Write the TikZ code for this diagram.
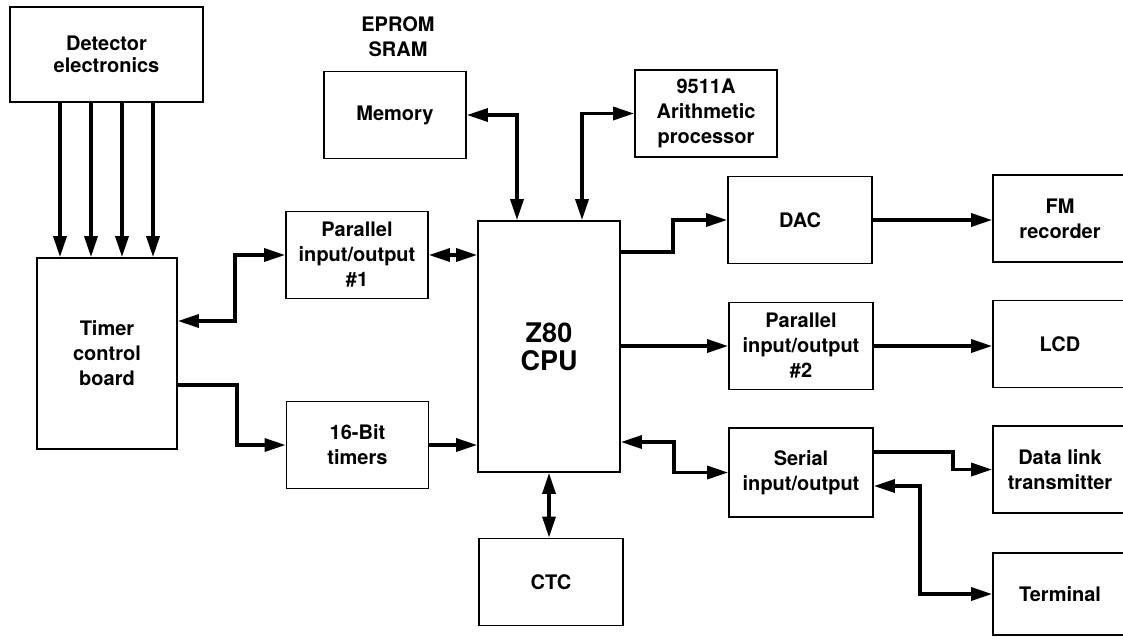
\documentclass[tikz,border=0pt]{standalone}
\usepackage{fontspec}
\setmainfont{TeX Gyre Heros}
\usetikzlibrary{arrows.meta}

\begin{document}
\begin{tikzpicture}[
        x=1pt, y=-1pt,
        box/.style={rectangle, draw=black, line width=1.8pt, align=center, inner sep=0pt, minimum width=142pt, minimum height=87pt, font=\fontsize{20}{25}\selectfont\bfseries},
        arrow/.style={-{Triangle[length=21pt, width=13pt]}, line width=3.3pt},
        biarrow/.style={{Triangle[length=21pt, width=13pt]}-{Triangle[length=21pt, width=13pt]}, line width=3.3pt}
    ]
        \clip (0,0) rectangle (1123,638);
        \node[box, minimum width=193pt, minimum height=95pt, font=\fontsize{20}{22}\selectfont\bfseries] (det) at (106.5,54.5) {Detector\\electronics};
        \node[box, minimum width=140pt, minimum height=191pt] (timer) at (107,353.5) {Timer\\control\\board};
        \node[box] (pio1) at (357,255) {Parallel\\input/output\\\#1};
        \node[box] (tim16) at (357.5,445) {16-Bit\\timers};
        \node[box] (mem) at (395,115) {Memory};
        \node[align=center, font=\fontsize{20}{25}\selectfont\bfseries] (rom) at (398,37) {EPROM\\SRAM};
        \node[box] (arith) at (706,113.5) {9511A\\Arithmetic\\processor};
        \node[box, minimum height=251pt, font=\fontsize{27}{28}\selectfont\bfseries] (cpu) at (549,346.5) {Z80\\CPU};
        \node[box, minimum width=144pt] (ctc) at (551,582) {CTC};
        \node[box, minimum width=144pt] (dac) at (800,220) {DAC};
        \node[box, minimum width=144pt] (pio2) at (801,346) {Parallel\\input/output\\\#2};
        \node[box, minimum width=144pt, minimum height=89pt] (sio) at (801,472.5) {Serial\\input/output};
        \node[box, minimum width=134pt] (fm) at (1060,218.5) {FM\\recorder};
        \node[box, minimum width=134pt] (lcd) at (1060,344) {LCD};
        \node[box, minimum width=134pt] (dlt) at (1060,469.5) {Data link\\transmitter};
        \node[box, minimum width=134pt, minimum height=82pt] (term) at (1060,594) {Terminal};

        \foreach \x in {60,91,122,153}
            \draw[arrow] (det.south -| \x,0) -- (timer.north -| \x,0);
        \draw[biarrow] (timer.east |- 0,321) -- ++(57,0) |- (pio1.west);
        \draw[arrow] (timer.east |- 0,385) -- ++(59,0) |- (tim16.west);
        \draw[arrow] (tim16.east) -- (cpu.west |- tim16.east);
        \draw[biarrow] (pio1.east) -- (cpu.west |- pio1.east);
        \draw[biarrow] (mem.east) -| (cpu.north -| 517,0);
        \draw[biarrow] (arith.west) -| (cpu.north -| 582,0);
        \draw[arrow] (cpu.east |- 0,252) -- ++(52,0) |- (dac.west);
        \draw[arrow] (cpu.east |- pio2.west) -- (pio2.west);
        \draw[biarrow] (cpu.east |- 0,442) -- ++(53,0) |- (sio.west);
        \draw[biarrow] (ctc.north -| cpu.south) -- (cpu.south);
        \draw[arrow] (dac.east) -- (fm.west |- dac.east);
        \draw[arrow] (pio2.east) -- (lcd.west |- pio2.east);
        \draw[arrow] (sio.east |- 0,452) -- ++(79,0) |- (dlt.west);
        \draw[biarrow] (sio.east |- 0,486) -- ++(46,0) |- (term.west);
\end{tikzpicture}
\end{document}
